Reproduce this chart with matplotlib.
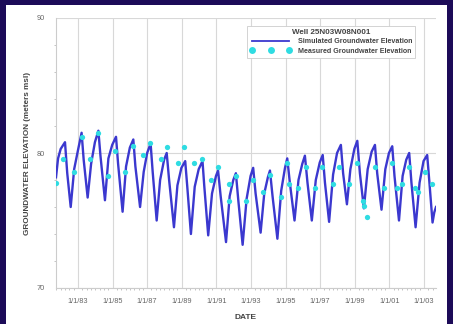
import numpy as np
import matplotlib
matplotlib.use("Agg")
import matplotlib.pyplot as plt
from matplotlib.lines import Line2D
from matplotlib.patches import Rectangle
from matplotlib.ticker import FixedLocator, MultipleLocator

plt.rcParams['font.family'] = ['Liberation Sans', 'DejaVu Sans']

# Simulated groundwater elevation (decimal year, meters msl)
sim_t = [1981.73, 1981.85, 1982.0, 1982.25, 1982.38, 1982.58, 1982.78, 1983.0,
         1983.21, 1983.33, 1983.56, 1983.76, 1983.98, 1984.18, 1984.3, 1984.56,
         1984.76, 1984.98, 1985.2, 1985.32, 1985.58, 1985.78, 1986.0, 1986.2,
         1986.32, 1986.59, 1986.8, 1987.0, 1987.2, 1987.32, 1987.55, 1987.75,
         1987.98, 1988.13, 1988.27, 1988.55, 1988.75, 1988.98, 1989.2, 1989.32,
         1989.53, 1989.75, 1989.98, 1990.2, 1990.3, 1990.53, 1990.75, 1990.98,
         1991.1, 1991.25, 1991.56, 1991.77, 1991.98, 1992.13, 1992.27, 1992.52,
         1992.75, 1992.98, 1993.13, 1993.27, 1993.56, 1993.77, 1993.98, 1994.1,
         1994.25, 1994.53, 1994.75, 1994.97, 1995.1, 1995.25, 1995.52, 1995.75,
         1995.97, 1996.12, 1996.27, 1996.52, 1996.75, 1996.98, 1997.15, 1997.28,
         1997.52, 1997.75, 1997.98, 1998.2, 1998.33, 1998.55, 1998.75, 1998.98,
         1999.15, 1999.3, 1999.53, 1999.75, 1999.98, 2000.17, 2000.3, 2000.55,
         2000.77, 2000.98, 2001.17, 2001.3, 2001.56, 2001.77, 2001.98, 2002.15,
         2002.28, 2002.52, 2002.75, 2002.98, 2003.19, 2003.32, 2003.5, 2003.6,
         2003.7]
sim_v = [78.2, 79.6, 80.3, 80.8, 78.5, 76.0, 78.8, 80.2,
         81.5, 79.5, 76.7, 79.2, 80.8, 81.65, 79.8, 76.5,
         79.6, 80.6, 81.2, 79.2, 75.65, 79.0, 80.4, 81.0,
         79.0, 76.0, 78.6, 80.0, 80.7, 78.6, 75.0, 78.0,
         79.5, 80.0, 78.0, 74.5, 77.6, 78.9, 79.4, 77.5,
         74.0, 77.5, 78.8, 79.4, 77.6, 73.9, 77.0, 78.3,
         78.7, 76.8, 73.4, 76.8, 78.0, 78.5, 76.5, 73.2,
         76.6, 78.3, 78.9, 77.0, 74.1, 77.0, 78.2, 78.7,
         76.8, 73.65, 77.2, 78.9, 79.6, 77.8, 75.0, 78.0,
         79.2, 79.8, 77.8, 75.0, 78.0, 79.3, 79.85, 77.8,
         74.9, 78.4, 80.0, 80.6, 78.5, 76.2, 78.8, 80.3,
         80.9, 78.5, 75.9, 78.8, 80.1, 80.6, 78.5, 75.8,
         78.8, 80.0, 80.5, 78.3, 75.0, 78.3, 79.5, 80.0,
         77.8, 74.5, 77.8, 79.4, 79.85, 77.8, 74.85, 75.6,
         76.0]

# Measured groundwater elevation
meas_t = [1981.73, 1982.15, 1982.77, 1983.21, 1983.69, 1984.17, 1984.75, 1985.14,
          1985.72, 1986.16, 1986.74, 1987.16, 1987.80, 1988.13, 1988.76, 1989.13,
          1989.72, 1990.15, 1990.67, 1991.11, 1991.75, 1991.75, 1992.13, 1992.71,
          1993.13, 1993.71, 1994.10, 1994.72, 1995.10, 1995.22, 1995.70, 1996.18,
          1996.70, 1997.09, 1997.72, 1998.10, 1998.68, 1999.11, 1999.49, 1999.53,
          1999.69, 2000.17, 2000.69, 2001.13, 2001.46, 2001.71, 2002.15, 2002.48,
          2002.67, 2003.09, 2003.46]
meas_v = [77.75, 79.53, 78.6, 81.16, 79.53, 81.46, 78.3, 80.17,
          78.6, 80.54, 79.85, 80.77, 79.53, 80.47, 79.23, 80.47,
          79.23, 79.53, 78.0, 78.94, 77.7, 76.47, 78.3, 76.47,
          78.0, 77.09, 78.37, 76.77, 79.23, 77.7, 77.38, 78.94,
          77.38, 78.94, 77.7, 78.94, 77.7, 79.23, 76.47, 76.1,
          75.23, 78.94, 77.38, 79.23, 77.38, 77.7, 78.94, 77.38,
          77.09, 78.6, 77.7]

xtick_years = [1983, 1985, 1987, 1989, 1991, 1993, 1995, 1997, 1999, 2001, 2003]
xtick_labels = ["1/1/83", "1/1/85", "1/1/87", "1/1/89", "1/1/91", "1/1/93",
                "1/1/95", "1/1/97", "1/1/99", "1/1/01", "1/1/03"]

W, H = 453, 324
fig = plt.figure(figsize=(W / 100, H / 100), dpi=100)
fig.patch.set_facecolor('#1c0b58')
# white slide panel, behind the axes
fig.add_artist(Rectangle((6 / W, 0), 441 / W, 319 / H, transform=fig.transFigure,
                         facecolor='white', edgecolor='none', zorder=-10))

ax = fig.add_axes([56 / W, 36 / H, 380 / W, 270 / H])
ax.set_facecolor('white')

ax.plot(sim_t, sim_v, color='#3b38cf', lw=1.7, zorder=3)
ax.plot(meas_t, meas_v, 'o', color='#2fdce2', ms=3.8, mec='none', zorder=4)

ax.set_xlim(1981.73, 2003.7)
ax.set_ylim(70, 90)

ax.xaxis.set_major_locator(FixedLocator(xtick_years))
ax.set_xticklabels(xtick_labels)
ax.xaxis.set_minor_locator(MultipleLocator(0.25))
ax.yaxis.set_major_locator(FixedLocator([70, 80, 90]))
ax.yaxis.set_minor_locator(MultipleLocator(2))

ax.grid(True, which='major', color='#d8d8d8', lw=0.8, zorder=0)
ax.tick_params(axis='both', which='major', length=0, labelsize=5.3, colors='#666666')
ax.tick_params(axis='x', which='major', pad=7)
ax.tick_params(axis='y', which='major', pad=8)
ax.tick_params(axis='both', which='minor', length=1.5, color='#bbbbbb', width=0.6)
for s in ['top', 'right']:
    ax.spines[s].set_visible(False)
for s in ['left', 'bottom']:
    ax.spines[s].set_color('#cccccc')
    ax.spines[s].set_linewidth(0.8)

ax.set_xlabel("DATE", fontsize=6, fontweight='bold', color='#444444', labelpad=7)
ax.set_ylabel("GROUNDWATER ELEVATION (meters msl)", fontsize=5.9, fontweight='bold',
              color='#444444', labelpad=4)

handles = [Line2D([], [], color='#3b38cf', lw=1.3),
           Line2D([], [], marker='o', ls='none', color='#2fdce2', ms=5, mec='none')]
leg = ax.legend(handles, ["Simulated Groundwater Elevation", "Measured Groundwater Elevation"],
                title="Well 25N03W08N001", loc='upper right', bbox_to_anchor=(0.955, 0.985),
                fontsize=5.1, title_fontsize=5.8, numpoints=3, handlelength=5.8,
                fancybox=False, edgecolor='#cccccc', framealpha=1, borderpad=0.45,
                labelspacing=0.35, handletextpad=0.9)
for t in leg.get_texts():
    t.set_fontweight('bold')
    t.set_color('#444444')
leg.get_title().set_color('#444444')
leg.get_title().set_fontweight('bold')
leg.get_frame().set_linewidth(0.6)

fig.savefig("out.png", dpi=100, facecolor=fig.get_facecolor())
